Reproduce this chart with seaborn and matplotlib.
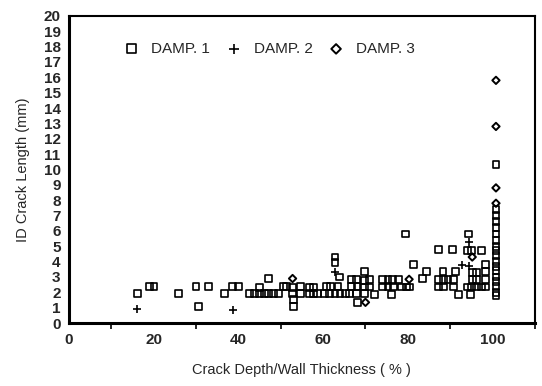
import pandas as pd
import seaborn as sns
import matplotlib.pyplot as plt
from matplotlib.ticker import MultipleLocator

# DAMP. 1 (open squares)
damp1_x = [16.2, 19.0, 20.1, 25.9, 30.0, 30.6, 33.0, 36.8, 38.7, 40.0,
           42.7, 43.8, 45.0, 45.0, 46.1, 47.2, 48.3, 47.1, 49.5, 50.7,
           51.3, 52.8, 52.8, 53.0, 53.0, 54.7, 54.7, 56.8, 57.7, 56.8,
           57.7, 58.6, 60.8, 61.8, 60.4, 61.6, 62.8, 62.8, 63.9, 63.5,
           62.8, 64.0, 65.2, 66.3, 66.7, 67.8, 66.7, 68.0, 67.8, 69.8,
           69.8, 69.8, 69.8, 68.2, 71.0, 71.0, 72.1, 74.0, 75.3, 76.4,
           77.8, 74.0, 75.3, 76.6, 78.6, 79.6, 80.3, 76.2, 79.4, 81.3,
           83.4, 84.4, 87.3, 90.5, 88.3, 87.2, 88.4, 89.5, 87.2, 88.4,
           90.7, 90.7, 91.2, 92.0, 94.4, 94.0, 95.1, 97.3, 95.2, 96.3,
           95.2, 96.3, 94.0, 95.1, 96.3, 97.4, 94.8, 98.3, 98.3, 98.3,
           98.3, 100.8, 100.8, 100.8, 100.8, 100.8, 100.8, 100.8, 100.8, 100.8,
           100.8, 100.8, 100.8, 100.8, 100.8, 100.8, 100.8, 100.8, 100.8]
damp1_y = [1.95, 2.4, 2.4, 1.9, 2.4, 1.1, 2.4, 1.9, 2.4, 2.4,
           1.95, 1.95, 2.3, 1.95, 1.95, 1.95, 1.95, 2.9, 1.95, 2.4,
           2.4, 2.3, 1.95, 1.55, 1.1, 2.4, 1.95, 2.3, 2.3, 1.9,
           1.9, 1.9, 2.4, 2.4, 1.9, 1.9, 4.3, 3.95, 3.0, 2.4,
           1.9, 1.9, 1.9, 1.9, 2.85, 2.85, 2.4, 2.4, 1.9, 3.35,
           2.75, 2.35, 1.9, 1.35, 2.85, 2.35, 1.85, 2.85, 2.85, 2.85,
           2.85, 2.35, 2.35, 2.35, 2.35, 2.35, 2.35, 1.85, 5.8, 3.8,
           2.9, 3.35, 4.8, 4.8, 3.35, 2.85, 2.85, 2.85, 2.35, 2.35,
           2.85, 2.35, 3.35, 1.85, 5.8, 4.75, 4.75, 4.75, 3.3, 3.3,
           2.85, 2.85, 2.35, 2.35, 2.35, 2.35, 1.85, 3.8, 3.35, 2.85,
           2.35, 10.3, 7.4, 7.0, 6.6, 6.2, 5.8, 5.4, 5.0, 4.7,
           4.4, 4.0, 3.7, 3.4, 3.0, 2.7, 2.4, 2.0, 1.8]

# DAMP. 2 (crosses)
damp2_x = [16.2, 38.7, 62.8, 94.4, 94.4, 92.8]
damp2_y = [0.9, 0.85, 3.3, 5.3, 3.7, 3.8]

# DAMP. 3 (diamonds)
damp3_x = [52.8, 70.0, 95.2, 80.3, 100.8, 100.8, 100.8, 100.8]
damp3_y = [2.9, 1.35, 4.3, 2.85, 15.8, 12.8, 8.8, 7.8]

df1 = pd.DataFrame({'x': damp1_x, 'y': damp1_y})
df2 = pd.DataFrame({'x': damp2_x, 'y': damp2_y})
df3 = pd.DataFrame({'x': damp3_x, 'y': damp3_y})

sns.set_style('white')
plt.rcParams['font.family'] = ['Liberation Sans', 'DejaVu Sans']

fig = plt.figure(figsize=(5.42, 3.86), dpi=100)
ax = fig.add_axes([0.127, 0.163, 0.860, 0.796])

sns.scatterplot(data=df1, x='x', y='y', ax=ax, marker='s', s=24,
                facecolor='none', edgecolor='black', linewidth=1.2, label='DAMP. 1')
sns.scatterplot(data=df2, x='x', y='y', ax=ax, marker='+', s=30,
                color='black', linewidth=1.2, label='DAMP. 2')
sns.scatterplot(data=df3, x='x', y='y', ax=ax, marker='D', s=14,
                facecolor='none', edgecolor='black', linewidth=1.4, label='DAMP. 3')

ax.set_xlim(0, 110)
ax.set_ylim(0, 20)
ax.xaxis.set_major_locator(MultipleLocator(20))
ax.xaxis.set_minor_locator(MultipleLocator(10))
ax.yaxis.set_major_locator(MultipleLocator(1))
ax.tick_params(axis='both', which='both', direction='out', color='black',
               labelsize=11, width=1.2)
ax.tick_params(axis='y', length=4, pad=2)
ax.tick_params(axis='x', which='major', length=4, pad=3)
ax.tick_params(axis='x', which='minor', length=4, bottom=True)
for lbl in ax.get_xticklabels() + ax.get_yticklabels():
    lbl.set_fontweight('bold')

for side in ['left', 'bottom']:
    ax.spines[side].set_linewidth(2.2)
for side in ['top', 'right']:
    ax.spines[side].set_linewidth(1.5)
for sp in ax.spines.values():
    sp.set_color('black')

ax.set_xlabel('Crack Depth/Wall Thickness ( % )', fontsize=10.5, labelpad=12)
ax.set_ylabel('ID Crack Length (mm)', fontsize=10.5, labelpad=10)

leg = ax.legend(loc='upper left', bbox_to_anchor=(0.088, 0.935), ncol=3, frameon=False,
                fontsize=11, handletextpad=0.3, columnspacing=0.55,
                markerscale=1.3, borderaxespad=0)

plt.savefig('out.png', dpi=100)
